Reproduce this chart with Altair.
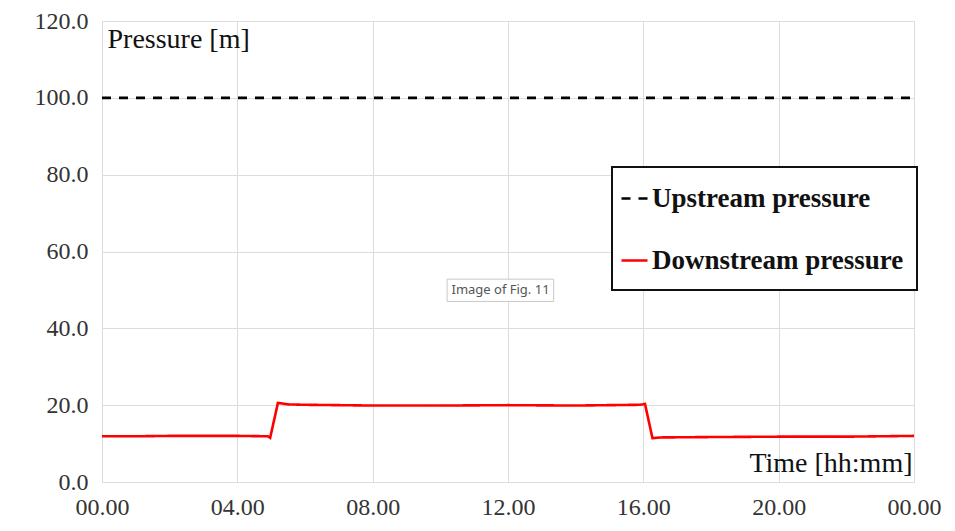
import altair as alt
import pandas as pd

# Data (hours, pressure in m)
up_t = [0, 24]
up_v = [100.0, 100.0]

down_t = [0, 1, 2, 3, 4, 4.9, 4.97, 5.2, 5.5, 6, 8, 10, 12, 14, 15.9, 16.05, 16.27, 16.5, 18, 20, 22, 24]
down_v = [11.9, 11.9, 12.0, 12.0, 12.0, 11.9, 11.5, 20.6, 20.2, 20.1, 19.9, 19.9, 20.0, 19.9, 20.1, 20.3, 11.4, 11.6, 11.7, 11.8, 11.8, 12.0]

series = ["Upstream pressure", "Downstream pressure"]
x_ticks = [0, 4, 8, 12, 16, 20, 24]
y_ticks = [0, 20, 40, 60, 80, 100, 120]

rows = [{"t": t, "v": v, "series": series[0]} for t, v in zip(up_t, up_v)]
rows += [{"t": t, "v": v, "series": series[1]} for t, v in zip(down_t, down_v)]
df = pd.DataFrame(rows)

W, H = 812, 461
SERIF = "Liberation Serif"

x_enc = alt.X("t:Q", scale=alt.Scale(domain=[0, 24], nice=False),
              axis=alt.Axis(values=x_ticks, title="Time [hh:mm]", labelFlush=False,
                            labelExpr="(datum.value % 24 < 10 ? '0' : '') + (datum.value % 24) + '.00'",
                            titleX=W - 2, titleY=-5, titleAlign="right", titleBaseline="bottom",
                            titleAnchor="end"))
y_enc = alt.Y("v:Q", scale=alt.Scale(domain=[0, 120], nice=False),
              axis=alt.Axis(values=y_ticks, format=".1f", title="Pressure [m]", labelFlush=False,
                            titleAngle=0, titleX=5, titleY=4, titleAlign="left",
                            titleBaseline="top", titleAnchor="start"))

leg = dict(title=None, orient="none", legendX=518, legendY=163,
           symbolType="stroke", symbolSize=676, symbolStrokeWidth=2.6,
           labelFont=SERIF, labelFontSize=27, labelFontWeight="bold",
           labelColor="#111111", labelOffset=3, rowPadding=34,
           padding=0, labelLimit=400)

lines = alt.Chart(df).mark_line(strokeWidth=2.6).encode(
    x=x_enc,
    y=y_enc,
    color=alt.Color("series:N", scale=alt.Scale(domain=series, range=["#000000", "#ff0000"]),
                    legend=alt.Legend(**leg)),
    strokeDash=alt.StrokeDash("series:N", scale=alt.Scale(domain=series, range=[[9, 8], [1, 0]]),
                              legend=alt.Legend(**leg)),
    order="t:Q",
)

box = alt.Chart(pd.DataFrame({"a": [0]})).mark_rect(fill="white", stroke="#111111", strokeWidth=2).encode(
    x=alt.value(510), x2=alt.value(815), y=alt.value(146), y2=alt.value(269)
)

note_df = pd.DataFrame({"t": [10.2], "t2": [13.35], "v": [52.8], "v2": [47.0], "tc": [11.78], "vc": [49.9],
                        "label": ["Image of Fig. 11"]})
note_box = alt.Chart(note_df).mark_rect(fill="white", stroke="#c8c8c8", strokeWidth=1).encode(
    x="t:Q", x2="t2:Q", y="v:Q", y2="v2:Q")
note_text = alt.Chart(note_df).mark_text(font="Noto Sans", fontSize=13, color="#555555").encode(
    x="tc:Q", y="vc:Q", text="label:N")

chart = alt.layer(lines, box, note_box, note_text).resolve_legend().properties(
    width=W, height=H,
    autosize=alt.AutoSizeParams(type="none"),
    padding={"left": 94, "top": 13, "right": 32, "bottom": 38},
).configure_view(stroke=None).configure_axis(
    grid=True, gridColor="#dcdcdc", gridWidth=1, domain=False, ticks=False,
    labelFont=SERIF, labelFontSize=24, labelColor="#333333",
    titleFont=SERIF, titleFontSize=28, titleFontWeight="normal", titleColor="#111111",
).configure_axisY(labelPadding=14).configure_axisX(labelPadding=13)

chart.save("out.html", embed_options={"renderer": "svg", "actions": False})
